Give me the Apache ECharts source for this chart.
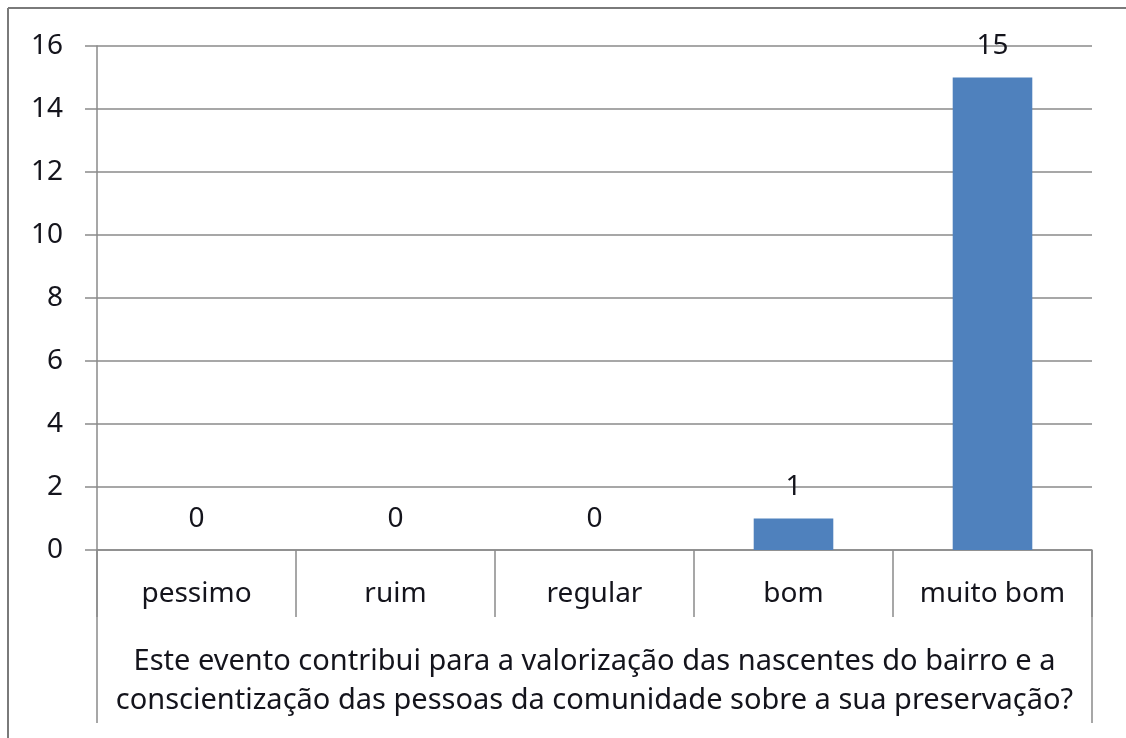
<!DOCTYPE html>
<html>
<head>
<meta charset="utf-8">
<script src="https://cdn.jsdelivr.net/npm/echarts@6/dist/echarts.min.js"></script>
<style>
  html, body { margin: 0; padding: 0; background: #fff; }
  #chart { width: 1126px; height: 738px; }
</style>
</head>
<body>
<div id="chart"></div>
<script>
var categories = ['pessimo', 'ruim', 'regular', 'bom', 'muito bom'];
var values = [0, 0, 0, 1, 15];
var axisTitle = 'Este evento contribui para a valorização das nascentes do bairro e a\nconscientização das pessoas da comunidade sobre a sua preservação?';

var font = 'Noto Sans';
var textColor = '#14141c';
var lineColor = '#8a8a8a';

var chart = echarts.init(document.getElementById('chart'));

var option = {
  backgroundColor: '#fff',
  animation: false,
  grid: {
    left: 97,
    right: 34,
    top: 46,
    bottom: 188
  },
  xAxis: {
    type: 'category',
    data: categories,
    axisLine: { show: true, lineStyle: { color: lineColor, width: 1.5 } },
    axisTick: { show: true, length: 67, lineStyle: { color: lineColor, width: 1.5 } },
    axisLabel: {
      fontFamily: font,
      fontSize: 28,
      color: textColor,
      margin: 30
    },
    name: axisTitle,
    nameLocation: 'middle',
    nameGap: 92,
    nameTextStyle: {
      fontFamily: font,
      fontSize: 29,
      color: textColor,
      lineHeight: 39,
      verticalAlign: 'top'
    }
  },
  yAxis: {
    type: 'value',
    min: 0,
    max: 16,
    interval: 2,
    axisLine: { show: true, lineStyle: { color: lineColor, width: 1.5 } },
    axisTick: { show: true, inside: false, length: 12, lineStyle: { color: lineColor, width: 1.5 } },
    axisLabel: {
      fontFamily: font,
      fontSize: 28,
      color: textColor,
      margin: 34
    },
    splitLine: { show: true, lineStyle: { color: lineColor, width: 1.5 } }
  },
  series: [{
    type: 'bar',
    data: values,
    barWidth: '40%',
    itemStyle: { color: '#4f81bd' },
    label: {
      show: true,
      position: 'top',
      distance: 17,
      fontFamily: font,
      fontSize: 28,
      color: textColor
    }
  }],
  graphic: [
    // outer frame (top and left edges)
    { type: 'line', shape: { x1: 8, y1: 8, x2: 1126, y2: 8 }, style: { stroke: '#7a7a7a', lineWidth: 2 } },
    { type: 'line', shape: { x1: 8, y1: 8, x2: 8, y2: 738 }, style: { stroke: '#7a7a7a', lineWidth: 2 } },
    // table sides under the axis
    { type: 'line', shape: { x1: 97, y1: 550, x2: 97, y2: 723 }, style: { stroke: lineColor, lineWidth: 1.5 } },
    { type: 'line', shape: { x1: 1092, y1: 550, x2: 1092, y2: 723 }, style: { stroke: lineColor, lineWidth: 1.5 } }
  ]
};

chart.setOption(option);
</script>
</body>
</html>
